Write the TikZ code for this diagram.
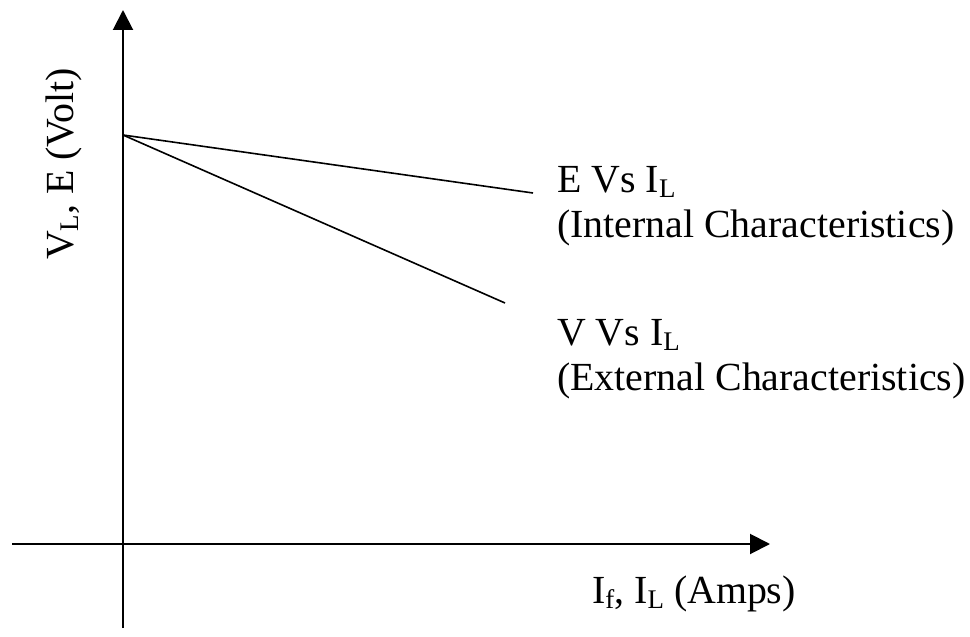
\documentclass[tikz,border=0pt]{standalone}
\usepackage{fontspec}
\setmainfont{Liberation Serif}
\usetikzlibrary{arrows.meta}
\newcommand\lowsub[1]{\raisebox{-5bp}{\fontsize{27}{27}\selectfont #1}}
\tikzset{
  axis/.style={line width=2bp, -{Triangle[length=20bp,width=20bp]}},
  curve/.style={line width=1.6bp},
  lbl/.style={inner sep=0pt, anchor=base west, font=\fontsize{40}{46}\selectfont},
}
\begin{document}
\begin{tikzpicture}[x=1bp,y=-1bp]
\useasboundingbox (0,0) rectangle (970,637);
\coordinate (ybot) at (123,628);
\coordinate (ytop) at (123,10);
\coordinate (xleft) at (12,544);
\coordinate (xright) at (770,544);
\coordinate (start) at (123,135);
\coordinate (eend) at (533,193);
\coordinate (vend) at (505,303);
\draw[axis] (ybot) -- (ytop);
\draw[axis] (xleft) -- (xright);
\draw[curve] (start) -- (eend);
\draw[curve] (start) -- (vend);
\node[lbl] (e1) at (557,193) {E Vs I\lowsub{L}};
\node[lbl] (e2) at (557,238) {(Internal Characteristics)};
\node[lbl] (v1) at (557,345) {V Vs I\lowsub{L}};
\node[lbl] (v2) at (557,390) {(External Characteristics)};
\node[lbl] (xl) at (592,603) {I\lowsub{f}, I\lowsub{L} (Amps)};
\node[lbl, rotate=90] (yl) at (73,260) {V\lowsub{L}, E (Volt)};
\end{tikzpicture}
\end{document}
